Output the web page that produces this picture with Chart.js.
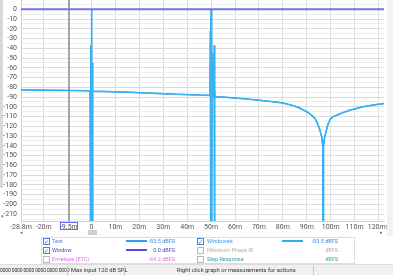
<!DOCTYPE html>
<html>
<head>
<meta charset="utf-8">
<script src="https://cdn.jsdelivr.net/npm/chart.js@4/dist/chart.umd.min.js"></script>
<style>
body{margin:0;width:393px;height:275px;overflow:hidden;background:#fff;position:relative;font-family:Roboto,"Noto Sans",sans-serif}
#irChart{position:absolute;left:0;top:0}
.abs{position:absolute;white-space:nowrap}
.lg{font-size:5.5px;line-height:8px}
.cb{position:absolute;width:5px;height:5px;border:1px solid #b8b8b8;background:#fff;font-size:6px;line-height:5px;text-align:center;color:#2d6fd2}
.cb.on{border-color:#4a80d8}
.sw{position:absolute;height:2px}
.val{width:60px;text-align:right}
#status{position:absolute;left:0;top:264px;width:393px;height:11px;background:#f0f0f0;border-top:1px solid #dcdcdc}
.st{font-size:5.8px;line-height:10px;color:#333;top:0}
.sep{position:absolute;top:1px;width:1px;height:9px;background:#c8c8c8}
</style>
</head>
<body>
<canvas id="irChart" width="387" height="232"></canvas>

<!-- side strips / scroll bits -->
<div class="abs" style="left:0;top:0;width:3px;height:188px;background:#d8d8d8"></div>
<div class="abs" style="left:1px;top:213px;font-size:5px;color:#666">▾</div>
<div class="abs" style="left:387px;top:0;width:6px;height:236px;background:#f2f2f2"></div>
<div class="abs" style="left:20px;top:229px;font-size:5px;color:#666">◂</div>
<div class="abs" style="left:88px;top:230px;width:9px;height:5px;background:#cfcfcf"></div>
<div class="abs" style="left:380px;top:229px;font-size:5px;color:#666">▸</div>

<!-- legend panel -->
<div class="abs" style="left:41px;top:237px;width:312px;height:25px;border:1px solid #dedede;background:#fff"></div>

<div class="cb on" style="left:43px;top:238px">✓</div>
<div class="abs lg" style="left:52px;top:237px;color:#3f86e0">Test</div>
<div class="sw" style="left:126px;top:240px;width:21px;background:#2aa0f0"></div>
<div class="abs lg val" style="left:115px;top:237px;color:#3f86e0">-83.5 dBFS</div>

<div class="cb on" style="left:43px;top:247px">✓</div>
<div class="abs lg" style="left:52px;top:246px;color:#4848cc">Window</div>
<div class="sw" style="left:126px;top:249px;width:21px;background:#5a4fd8"></div>
<div class="abs lg val" style="left:115px;top:246px;color:#4848cc">0.0 dBFS</div>

<div class="cb" style="left:43px;top:256px"></div>
<div class="abs lg" style="left:52px;top:255px;color:#e070e0">Envelope (ETC)</div>
<div class="abs lg val" style="left:115px;top:255px;color:#e070e0">-69.2 dBFS</div>

<div class="cb on" style="left:197px;top:238px">✓</div>
<div class="abs lg" style="left:207px;top:237px;color:#3f9ae8">Windowed</div>
<div class="sw" style="left:282px;top:240px;width:21px;background:#2ab0f0"></div>
<div class="abs lg val" style="left:278px;top:237px;color:#3f86e0">-83.5 dBFS</div>

<div class="cb" style="left:197px;top:247px"></div>
<div class="abs lg" style="left:207px;top:246px;color:#b0b0b0">Minimum Phase IR</div>
<div class="abs lg val" style="left:278px;top:246px;color:#b0b0b0">dBFS</div>

<div class="cb" style="left:197px;top:256px"></div>
<div class="abs lg" style="left:207px;top:255px;color:#3aa0a0">Step Response</div>
<div class="abs lg val" style="left:278px;top:255px;color:#3aa0a0">dBFS</div>

<!-- status bar -->
<div id="status">
  <div class="abs st" style="left:0;font-size:5px;letter-spacing:-0.15px">0000 0000 0000 0000 0000 0000</div>
  <div class="sep" style="left:67px"></div>
  <div class="abs st" style="left:71px">Max input 120 dB SPL</div>
  <div class="sep" style="left:124px"></div>
  <div class="abs st" style="left:177px">Right click graph or measurements for actions</div>
  <div class="sep" style="left:313px"></div>
</div>

<script>
// impulse response, time in ms, level in dBFS (-300 = off the bottom)
const testTimes = [-29.5, -20, -10, -2, -0.6, -0.45, -0.35, -0.25, -0.15, -0.05, 0, 0.05, 0.15, 0.25, 0.35, 0.45, 0.6,
  5, 15, 25, 35, 45, 49.5, 49.7, 49.8, 49.9, 50, 50.1, 50.2, 50.3, 50.4, 50.55, 51.2, 51.3, 51.4, 51.55, 51.7,
  55, 60, 66, 70, 75, 80, 84, 87.3, 90, 92, 93.5, 94.5, 95.5, 96.3, 96.7, 96.85, 97.0, 97.5, 98.2,
  99.0, 99.8, 101, 102.5, 105, 108, 113.4, 118, 122.3];
const testLevels = [-82.6, -82.9, -83.2, -83.5, -83.7, -37, -300, -45, -300, -40, 0, -300, -38, -300, -55, -300, -84,
  -84.2, -85, -86, -87, -87.9, -88.3, -22, -300, -30, 0, -300, -28, -300, -45, -89, -89.2, -37, -300, -83, -89.6,
  -90, -91, -92.2, -93.2, -94.5, -96, -98.5, -101.5, -105, -108.5, -112, -117, -124, -131, -140, -300, -140, -131, -124,
  -117, -112.5, -110, -108.6, -106, -103.5, -100, -98, -96.6];

const windowTimes = [-29.5, 122.3];
const windowLevels = [0, 0];

const cursorTime = -9.5;
const xTicks = [-29.5, -20, -10, -9.5, 0, 10, 20, 30, 40, 50, 60, 70, 80, 90, 100, 110, 120];
const xLabels = ["-28.8m", "-20m", "", "-9.5m", "0", "10m", "20m", "30m", "40m", "50m", "60m", "70m", "80m", "90m", "100m", "110m", "120ms"];

const xMin = -29.5, xMax = 122.3;
const yMin = -217, yMax = 9.5;

const toPts = (xs, ys) => xs.map((x, i) => ({x: x, y: ys[i]}));

const tickFont = {family: "Roboto, 'Noto Sans', sans-serif", size: 7};

// cursor line and the box around its time label
const cursorLine = {
  id: 'cursorLine',
  beforeDatasetsDraw(chart) {
    const xs = chart.scales.x, a = chart.chartArea, c = chart.ctx;
    const px = Math.round(xs.getPixelForValue(cursorTime));
    c.save();
    c.fillStyle = '#a4a4a4';
    c.fillRect(px - 1, a.top, 2, a.bottom - a.top);
    c.restore();
  },
  afterDraw(chart) {
    const xs = chart.scales.x, c = chart.ctx;
    const px = Math.round(xs.getPixelForValue(cursorTime));
    c.save();
    c.strokeStyle = '#6a6aff';
    c.lineWidth = 1;
    c.strokeRect(px - 8.5, 222.5, 17, 7);
    c.restore();
  }
};

new Chart("irChart", {
  type: "line",
  data: {
    datasets: [
      {label: "Window", data: toPts(windowTimes, windowLevels), borderColor: "#7070f4", borderWidth: 2, pointRadius: 0},
      {label: "Windowed", data: toPts(testTimes, testLevels), borderColor: "#38b2f4", borderWidth: 1.2, pointRadius: 0, borderJoinStyle: "bevel"},
      {label: "Test", data: toPts(testTimes, testLevels), borderColor: "#1ba2f6", borderWidth: 1.5, pointRadius: 0, borderJoinStyle: "bevel"}
    ]
  },
  options: {
    responsive: false,
    animation: false,
    events: [],
    layout: {padding: {left: 0, right: 3, top: 0, bottom: 0}},
    plugins: {legend: {display: false}, tooltip: {enabled: false}},
    scales: {
      x: {
        type: "linear", min: xMin, max: xMax,
        afterBuildTicks(s) { s.ticks = xTicks.map(v => ({value: v})); },
        afterFit(s) { s.height = 11; s.paddingLeft = 0; s.paddingRight = 0; },
        ticks: {
          autoSkip: false, maxRotation: 0, padding: 2, color: "#555", font: tickFont,
          callback: (v) => { const i = xTicks.indexOf(v); return i < 0 ? "" : xLabels[i]; }
        },
        grid: {
          drawTicks: false,
          color: (c) => c.tick && (c.tick.value === cursorTime || c.tick.value === -10) ? "rgba(0,0,0,0)" : "#dcdcdc"
        },
        border: {color: "#cfcfcf"}
      },
      y: {
        type: "linear", min: yMin, max: yMax,
        afterBuildTicks(s) {
          const t = [];
          for (let v = -215; v <= 5; v += 5) t.push({value: v});
          s.ticks = t;
        },
        afterFit(s) { s.width = 21; s.paddingTop = 0; s.paddingBottom = 0; },
        ticks: {
          autoSkip: false, padding: 4, color: "#555", font: tickFont,
          callback: (v) => v % 10 === 0 ? String(v) : ""
        },
        grid: {
          drawTicks: false,
          color: (c) => c.tick && c.tick.value % 10 === 0 ? "#dcdcdc" : "#efefef"
        },
        border: {color: "#cfcfcf"}
      }
    }
  },
  plugins: [cursorLine]
});
</script>
</body>
</html>
